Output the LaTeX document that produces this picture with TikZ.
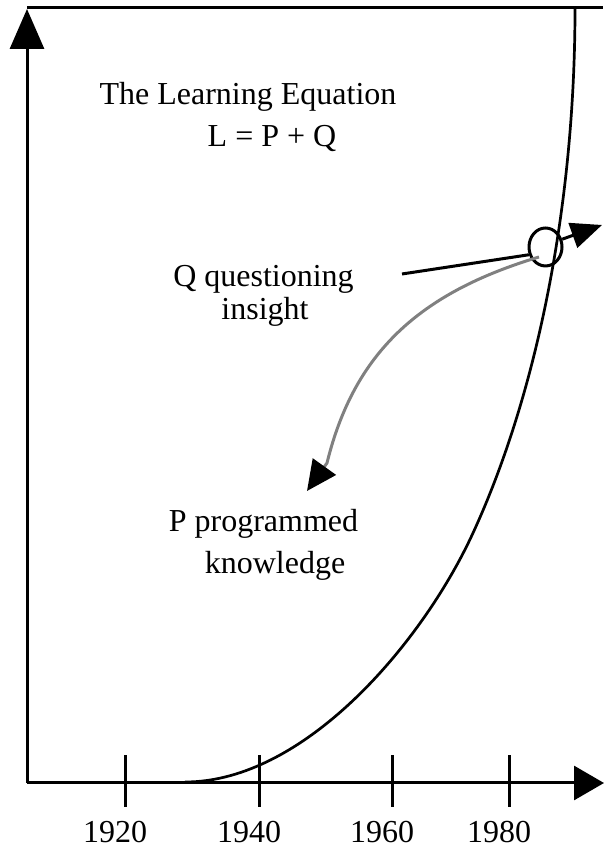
\documentclass[tikz,border=0pt]{standalone}
\usepackage{fontspec}
\setmainfont{Liberation Serif}
\usepackage{tikz}
\usetikzlibrary{arrows.meta,shapes.geometric}

\begin{document}
\begin{tikzpicture}[x=1pt,y=1pt,line width=3pt,
  lbl/.style={anchor=base,inner sep=0pt,font=\fontsize{32}{40}\selectfont}]
  \useasboundingbox (0,0) rectangle (603,850);
  % frame and axes
  \coordinate (o) at (27,67);
  \coordinate (ytop) at (27,841);
  \coordinate (xend) at (604,67);
  \draw (27,842.5) -- (603,842.5);
  \draw[-{Triangle[length=40pt,width=34pt]}] (o) -- (ytop);
  \draw[-{Triangle[length=30pt,width=34pt]}] (o) -- (xend);
  \foreach \x/\yr in {125/1920,259/1940,392/1960,509/1980}{
    \draw (\x,43) -- (\x,95);
    \node[lbl] (yr\yr) at (\x-10,8) {\yr};
  }
  % growth curve
  \coordinate (c0) at (185,68);
  \coordinate (c1) at (473,317);
  \coordinate (c2) at (575,842);
  \draw[line width=2.7pt] (c0) .. controls (305,68) and (423,208) .. (c1)
    .. controls (536,454) and (575,642) .. (c2);
  % labels
  \node[lbl] (title) at (248,745) {The Learning Equation};
  \node[lbl] (eqn) at (272,703) {L = P + Q};
  \node[lbl] (qlab) at (263.5,563) {Q questioning};
  \node[lbl] (qlab2) at (265,530) {insight};
  \node[lbl] (plab) at (263.5,318) {P programmed};
  \node[lbl] (plab2) at (275,276) {knowledge};
  % the point on the curve
  \node[ellipse,draw,minimum width=33pt,minimum height=38pt,inner sep=0pt] (hit) at (545.5,603) {};
  \coordinate (qfrom) at (402,576);
  \coordinate (qtip) at (602,625);
  \coordinate (gstart) at (539,593);
  \coordinate (gbend) at (327,387);
  \coordinate (gtip) at (307,359);
  \draw (qfrom) -- (hit.205);
  \draw[-{Triangle[length=31pt,width=26pt]}] (hit.25) -- (qtip);
  \draw[gray,-{Triangle[length=30pt,width=28pt,color=black]}] (gstart) .. controls (419,557) and (354,497) .. (gbend) -- (gtip);
\end{tikzpicture}
\end{document}
